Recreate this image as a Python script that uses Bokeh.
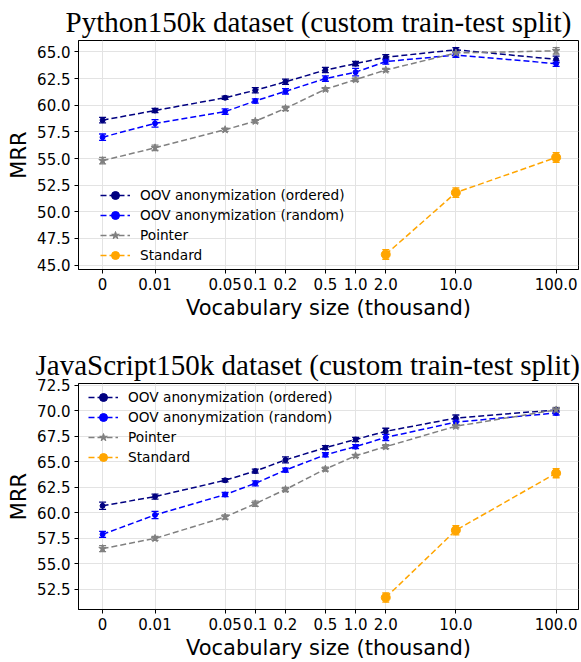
from bokeh.plotting import figure
from bokeh.models import (Range1d, FixedTicker, CustomJSTickFormatter, NumeralTickFormatter,
                          ColumnDataSource, Whisker, TeeHead, Legend, LegendItem, SingleIntervalTicker)
from bokeh.layouts import column
from bokeh.embed import file_html
from bokeh.resources import INLINE

# ---- data ----
vocab_labels = ["0", "0.01", "0.05", "0.1", "0.2", "0.5", "1.0", "2.0", "10.0", "100.0"]
# "0" is placed at 0.003 on the logarithmic axis
vocab_sizes = [0.003, 0.01, 0.05, 0.1, 0.2, 0.5, 1.0, 2.0, 10.0, 100.0]
standard_sizes = [2.0, 10.0, 100.0]

py_ordered = [58.6, 59.5, 60.7, 61.4, 62.2, 63.3, 63.9, 64.5, 65.2, 64.3]
py_ordered_err = [0.25, 0.2, 0.15, 0.25, 0.25, 0.25, 0.2, 0.25, 0.2, 0.3]
py_random = [57.0, 58.3, 59.4, 60.4, 61.3, 62.5, 63.1, 64.1, 64.7, 63.9]
py_random_err = [0.3, 0.35, 0.25, 0.2, 0.25, 0.25, 0.35, 0.25, 0.2, 0.25]
py_pointer = [54.8, 56.0, 57.7, 58.5, 59.7, 61.5, 62.4, 63.3, 64.9, 65.1]
py_pointer_err = [0.3, 0.25, 0.15, 0.15, 0.2, 0.15, 0.15, 0.15, 0.2, 0.3]
py_standard = [46.0, 51.8, 55.1]
py_standard_err = [0.45, 0.45, 0.45]

js_ordered = [60.7, 61.6, 63.2, 64.1, 65.2, 66.4, 67.2, 68.0, 69.3, 70.1]
js_ordered_err = [0.35, 0.25, 0.15, 0.2, 0.3, 0.2, 0.2, 0.3, 0.3, 0.2]
js_random = [57.9, 59.8, 61.8, 62.9, 64.2, 65.7, 66.5, 67.4, 68.9, 69.8]
js_random_err = [0.3, 0.35, 0.2, 0.25, 0.2, 0.2, 0.2, 0.3, 0.3, 0.2]
js_pointer = [56.5, 57.5, 59.6, 60.9, 62.3, 64.3, 65.6, 66.5, 68.5, 70.1]
js_pointer_err = [0.3, 0.2, 0.2, 0.25, 0.2, 0.2, 0.15, 0.2, 0.15, 0.25]
js_standard = [51.7, 58.3, 63.9]
js_standard_err = [0.45, 0.45, 0.45]

series_names = ["OOV anonymization (ordered)", "OOV anonymization (random)", "Pointer", "Standard"]
series_colors = ["#000080", "#0000ff", "#808080", "#ffa500"]


def make_fig(title, title_offset, data, yrange, height, border_top, border_bottom, legend_loc):
    p = figure(width=581, height=height, output_backend="svg", toolbar_location=None,
               x_axis_type="log", x_range=Range1d(10 ** -2.763, 10 ** 2.223),
               y_range=Range1d(*yrange),
               min_border_left=78, min_border_right=3,
               min_border_top=border_top, min_border_bottom=border_bottom)
    p.title.text = title
    p.title.text_font = "Liberation Serif"
    p.title.text_font_size = "29px"
    p.title.text_font_style = "normal"
    p.title.align = "left"
    p.title.offset = title_offset
    p.title.standoff = 6
    p.title.text_color = "black"

    p.outline_line_color = "black"
    p.outline_line_width = 1
    p.background_fill_color = "white"
    p.border_fill_color = "white"

    p.xaxis.ticker = FixedTicker(ticks=vocab_sizes)
    p.xaxis.formatter = CustomJSTickFormatter(
        args=dict(vals=vocab_sizes, labs=vocab_labels),
        code="for (let i = 0; i < vals.length; i++) {"
             " if (Math.abs(Math.log10(vals[i]) - Math.log10(tick)) < 1e-6) return labs[i]; }"
             " return '';")
    p.yaxis.ticker = SingleIntervalTicker(interval=2.5)
    p.yaxis.formatter = NumeralTickFormatter(format="0.0")

    for ax in (p.xaxis, p.yaxis):
        ax.minor_tick_line_color = None
        ax.major_tick_out = 4
        ax.major_tick_in = 0
        ax.major_tick_line_color = "black"
        ax.axis_line_color = "black"
        ax.major_label_text_font = "DejaVu Sans"
        ax.major_label_text_font_size = "15px"
        ax.major_label_text_color = "black"
        ax.major_label_standoff = 4
        ax.axis_label_text_font = "DejaVu Sans"
        ax.axis_label_text_font_size = "21px"
        ax.axis_label_text_font_style = "normal"
        ax.axis_label_text_color = "black"
        ax.axis_label_standoff = 3
    p.xaxis.axis_label = "Vocabulary size (thousand)"
    p.yaxis.axis_label = "MRR"

    p.grid.grid_line_color = "#e3e3e3"
    p.grid.grid_line_width = 1

    items = []
    markers = ["circle", "circle", "star", "circle"]
    sizes = [5, 5, 8, 9]
    for i, (vals, errs) in enumerate(data):
        xs = standard_sizes if i == 3 else vocab_sizes
        src = ColumnDataSource(dict(x=xs, y=vals,
                                    lo=[v - e for v, e in zip(vals, errs)],
                                    hi=[v + e for v, e in zip(vals, errs)]))
        c = series_colors[i]
        ln = p.line("x", "y", source=src, line_color=c, line_width=1.5, line_dash="6 3")
        w = Whisker(base="x", lower="lo", upper="hi", source=src, dimension="height",
                    line_color=c, line_width=1.3,
                    lower_head=TeeHead(size=7, line_color=c, line_width=1.3),
                    upper_head=TeeHead(size=7, line_color=c, line_width=1.3))
        p.add_layout(w)
        sc = p.scatter("x", "y", source=src, marker=markers[i], size=sizes[i],
                       fill_color=c, line_color=c)
        items.append(LegendItem(label=series_names[i], renderers=[ln, sc]))

    leg = Legend(items=items, location=legend_loc)
    leg.label_text_font = "DejaVu Sans"
    leg.label_text_font_size = "13.7px"
    leg.label_text_color = "black"
    leg.border_line_alpha = 0
    leg.background_fill_alpha = 0
    leg.glyph_width = 30
    leg.label_standoff = 10
    leg.spacing = 0
    leg.padding = 4
    leg.margin = 0
    leg.label_height = 20
    leg.glyph_height = 20
    p.add_layout(leg)
    return p


p1 = make_fig("Python150k dataset (custom train-test split)", -13,
              [(py_ordered, py_ordered_err), (py_random, py_random_err),
               (py_pointer, py_pointer_err), (py_standard, py_standard_err)],
              (44.59, 66.07), 330, 40, 61, (18, 0))
p2 = make_fig("JavaScript150k dataset (custom train-test split)", -43,
              [(js_ordered, js_ordered_err), (js_random, js_random_err),
               (js_pointer, js_pointer_err), (js_standard, js_standard_err)],
              (50.53, 72.69), 332, 53, 51, (6, 138))

layout = column(p1, p2, spacing=0)
open("out.html", "w").write(file_html(layout, INLINE))
